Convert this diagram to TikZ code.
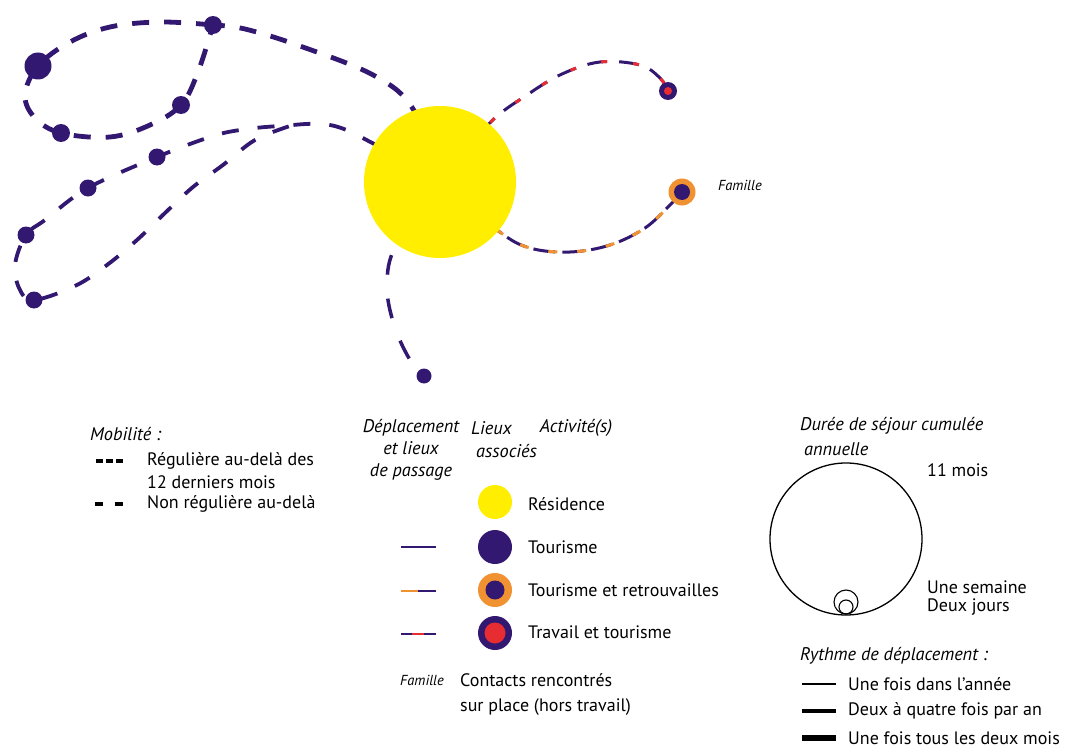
\documentclass[tikz,border=0pt]{standalone}
\usepackage{fontspec}
\setmainfont{PT Sans}
\definecolor{purp}{RGB}{50,24,112}
\definecolor{sun}{RGB}{255,238,0}
\definecolor{orng}{RGB}{240,145,50}
\definecolor{redd}{RGB}{232,45,50}
\pgfdeclarelayer{bg}
\pgfsetlayers{bg,main}
\begin{document}
\begin{tikzpicture}[x=1pt,y=-1pt,
  dot/.style={circle,fill=purp,inner sep=0pt,minimum size=#1},
  txt/.style={anchor=west,inner sep=0pt,font=\fontsize{18}{21}\selectfont},
  itx/.style={inner sep=0pt,font=\fontsize{18.3}{22}\selectfont\itshape},
  smallit/.style={inner sep=0pt,font=\fontsize{14.5}{17}\selectfont\itshape},
  heavyroute/.style={draw=purp,line width=4.8pt,dash pattern=on 17pt off 15pt},
  lightroute/.style={draw=purp,line width=3.8pt,dash pattern=on 17pt off 19pt},
  downroute/.style={draw=purp,line width=3.5pt,dash pattern=on 20pt off 24pt},
  workroute/.style={draw=purp,line width=3pt,dash pattern=on 20pt off 12pt},
  workred/.style={draw=redd,line width=3pt,dash pattern=on 6pt off 26pt,dash phase=18pt},
  famroute/.style={draw=purp,line width=3pt,dash pattern=on 22pt off 7pt},
  famorange/.style={draw=orng,line width=3pt,dash pattern=on 9pt off 20pt,dash phase=14pt},
  legline/.style={line width=2.6pt},
  rythm/.style={draw=black}
]
\useasboundingbox (0,0) rectangle (1066,752);

% residence
\node[circle,fill=sun,inner sep=0pt,minimum size=152pt] (R) at (440,182) {};

% places
\node[dot=27pt] (A) at (38,66) {};
\node[dot=18pt] (B) at (213,25) {};
\node[dot=18pt] (C) at (181,105) {};
\node[dot=18pt] (D) at (61,133) {};
\node[dot=17pt] (E) at (157,157) {};
\node[dot=17pt] (F) at (88,188) {};
\node[dot=17pt] (G) at (26,235) {};
\node[dot=17pt] (H) at (34,300) {};
\node[dot=15pt] (I) at (424,376) {};
\node[dot=18pt] (J) at (668,91) {};
\node[circle,fill=redd,inner sep=0pt,minimum size=8pt] (Jc) at (J) {};
\node[circle,fill=orng,inner sep=0pt,minimum size=27pt] (K) at (682,192) {};
\node[dot=16pt] (Kc) at (K) {};
\node[smallit,anchor=west] (famlab) at (718,185) {Famille};

\begin{pgfonlayer}{bg}
% regular route
\draw[heavyroute] plot[smooth,tension=0.6] coordinates {(R.center) (R.110) (375,76) (300,46) (245,29) (B.center)};
\draw[heavyroute] plot[smooth,tension=0.6] coordinates {(B.center) (160,22) (110,27) (70,42) (A.center) (25,95) (35,118) (D.center) (110,137) (150,125) (C.center) (198,72) (B.center)};
% loop west
\draw[lightroute] plot[smooth,tension=0.6] coordinates {(R.center) (R.150) (330,125) (280,126) (240,130) (210,137) (E.center) (F.center) (45,220) (G.center) (15,265) (20,290) (H.center) (75,286) (107,265) (137,240) (165,213) (193,187) (223,165) (255,140) (290,126)};
% down
\draw[downroute] plot[smooth,tension=0.6] coordinates {(R.center) (R.235) (387,285) (394,325) (410,360) (I.center)};
% work
\draw[workroute] plot[smooth,tension=0.6] coordinates {(R.center) (R.50) (527,95) (562,74) (600,62) (640,65) (660,78) (J.center)};
\draw[workred] plot[smooth,tension=0.6] coordinates {(R.center) (R.50) (527,95) (562,74) (600,62) (640,65) (660,78) (J.center)};
% family
\draw[famroute] plot[smooth,tension=0.6] coordinates {(R.center) (R.-40) (530,248) (570,252) (610,245) (645,228) (670,205) (K.center)};
\draw[famorange] plot[smooth,tension=0.6] coordinates {(R.center) (R.-40) (530,248) (570,252) (610,245) (645,228) (670,205) (K.center)};
\end{pgfonlayer}

% ---- legend: mobility
\node[itx,anchor=west] (mob) at (90,434) {Mobilité :};
\coordinate (m1a) at (96,461); \coordinate (m1b) at (124,461);
\draw[black,line width=3.5pt,dash pattern=on 7pt off 3pt] (m1a) -- (m1b);
\node[txt] (reg1) at (147,461) {Régulière au-delà des};
\node[txt] (reg2) at (147,482) {12 derniers mois};
\coordinate (m2a) at (95,504); \coordinate (m2b) at (124,504);
\draw[black,line width=3.5pt,dash pattern=on 8pt off 12pt] (m2a) -- (m2b);
\node[txt] (nreg) at (147,504) {Non régulière au-delà};

% ---- legend: places
\node[itx,align=center] (h1) at (411,450) {Déplacement\\et lieux\\de passage};
\node[itx,anchor=west] (h2a) at (471,428) {Lieux};
\node[itx,anchor=west] (h2b) at (476,451) {associés};
\node[itx] (h3) at (576,428) {Activité(s)};

\node[circle,fill=sun,inner sep=0pt,minimum size=34pt] (l1) at (495,502) {};
\node[txt] (t1) at (528,504) {Résidence};

\coordinate (p2a) at (401,547); \coordinate (p2b) at (436,547);
\draw[purp,legline] (p2a) -- (p2b);
\node[dot=34pt] (l2) at (495,547) {};
\node[txt] (t2) at (528,547) {Tourisme};

\coordinate (p3a) at (401,591); \coordinate (p3m) at (418,591); \coordinate (p3b) at (436,591);
\draw[orng,legline] (p3a) -- (p3m);
\draw[purp,legline] (p3m) -- (p3b);
\node[circle,fill=orng,inner sep=0pt,minimum size=34pt] (l3) at (495,590) {};
\node[dot=19pt] (l3c) at (l3) {};
\node[txt] (t3) at (528,590) {Tourisme et retrouvailles};

\coordinate (p4a) at (401,634); \coordinate (p4m) at (412,634); \coordinate (p4n) at (424,634); \coordinate (p4b) at (436,634);
\draw[purp,legline] (p4a) -- (p4m);
\draw[redd,legline] (p4m) -- (p4n);
\draw[purp,legline] (p4n) -- (p4b);
\node[dot=34pt] (l4) at (495,633) {};
\node[circle,fill=redd,inner sep=0pt,minimum size=21pt] (l4c) at (l4) {};
\node[txt] (t4) at (528,632) {Travail et tourisme};

\node[smallit,anchor=east] (fam2) at (444,680) {Famille};
\node[txt,align=left,font=\fontsize{18}{25}\selectfont] (t5) at (460,694) {Contacts rencontrés\\sur place (hors travail)};

% ---- legend: duration
\node[itx,anchor=west] (dur1) at (800,426) {Durée de séjour cumulée};
\node[itx,anchor=west] (dur2) at (804,449) {annuelle};
\node[circle,draw=black,line width=1.3pt,inner sep=0pt,minimum size=152pt] (big) at (846,539) {};
\node[circle,draw=black,line width=1.1pt,inner sep=0pt,minimum size=24pt] (wk) at (846,602) {};
\node[circle,draw=black,line width=1.1pt,inner sep=0pt,minimum size=14pt] (dj) at (846,607) {};
\node[txt] (mois) at (927,470) {11 mois};
\node[txt] (sem) at (927,587) {Une semaine};
\node[txt] (jrs) at (927,607) {Deux jours};

% ---- legend: rhythm
\node[itx,anchor=west] (ryt) at (800,656) {Rythme de déplacement :};
\coordinate (r1a) at (802,684); \coordinate (r1b) at (836,684);
\draw[rythm,line width=1.3pt] (r1a) -- (r1b);
\node[txt] (rt1) at (848,684) {Une fois dans l’année};
\coordinate (r2a) at (802,711); \coordinate (r2b) at (836,711);
\draw[rythm,line width=3.5pt] (r2a) -- (r2b);
\node[txt] (rt2) at (848,711) {Deux à quatre fois par an};
\coordinate (r3a) at (802,738); \coordinate (r3b) at (836,738);
\draw[rythm,line width=6pt] (r3a) -- (r3b);
\node[txt] (rt3) at (848,738) {Une fois tous les deux mois};
\end{tikzpicture}
\end{document}
